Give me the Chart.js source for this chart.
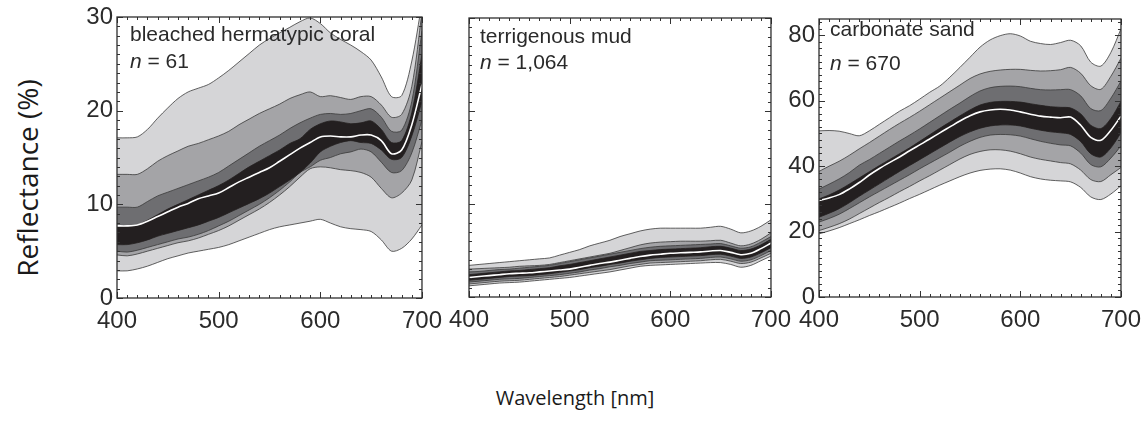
<!DOCTYPE html>
<html>
<head>
<meta charset="utf-8">
<script src="https://cdn.jsdelivr.net/npm/chart.js@4.4.1/dist/chart.umd.min.js"></script>
<style>
  body { margin: 0; background: #fff; width: 1148px; height: 427px; overflow: hidden; position: relative; }
  canvas { position: absolute; }
  .lbl { position: absolute; font-family: 'Liberation Sans', Arial, sans-serif; font-size: 21px; color: #2a2a2a; white-space: nowrap; }
  .lbl i { font-style: italic; }
  #ylab { position: absolute; left: 27px; top: 178px; transform: translate(-50%, -50%) rotate(-90deg); font-family: 'Open Sans', sans-serif; font-size: 28px; color: #1a1a1a; white-space: nowrap; }
  #xlab { position: absolute; left: 575px; top: 397px; transform: translate(-50%, -50%); font-family: 'Open Sans', sans-serif; font-size: 20px; color: #1a1a1a; white-space: nowrap; }
</style>
</head>
<body>
<canvas id="coral" width="394" height="341" style="left:57px; top:-3px"></canvas>
<canvas id="mud" width="391" height="339" style="left:409px; top:-2px"></canvas>
<canvas id="sand" width="391" height="338" style="left:759px; top:-1px"></canvas>

<div class="lbl" style="left:130px; top:22px">bleached hermatypic coral</div>
<div class="lbl" style="left:130px; top:49px"><i>n</i> = 61</div>
<div class="lbl" style="left:480px; top:24px">terrigenous mud</div>
<div class="lbl" style="left:480px; top:50px"><i>n</i> = 1,064</div>
<div class="lbl" style="left:830px; top:17px">carbonate sand</div>
<div class="lbl" style="left:830px; top:51px"><i>n</i> = 670</div>

<div id="ylab">Reflectance (%)</div>
<div id="xlab">Wavelength [nm]</div>

<script>
// wavelength grid, nm
const wavelengths = [400, 410, 420, 430, 440, 450, 460, 470, 480, 490, 500, 510, 520, 530, 540, 550,
                     560, 570, 580, 590, 600, 610, 620, 630, 640, 650, 660, 670, 680, 690, 700];

// bleached hermatypic coral (n = 61), reflectance %
const coralLo1 = [2.9, 2.9, 3.1, 3.4, 3.8, 4.2, 4.5, 4.8, 5.0, 5.2, 5.4, 5.7, 6.1, 6.5, 6.9, 7.3, 7.6, 7.8, 8.0, 8.2, 8.4, 8.0, 7.6, 7.4, 7.3, 7.1, 6.2, 5.0, 5.3, 6.3, 7.8];
const coralLo2 = [4.6, 4.5, 4.7, 5.0, 5.3, 5.6, 5.9, 6.1, 6.4, 6.8, 7.2, 7.7, 8.3, 8.9, 9.5, 10.2, 11.0, 11.9, 12.9, 13.8, 14.0, 13.9, 13.7, 13.6, 13.4, 12.9, 11.7, 10.7, 11.2, 12.6, 16.7];
const coralLo3 = [5.0, 4.9, 5.1, 5.4, 5.7, 6.0, 6.3, 6.5, 6.8, 7.2, 7.7, 8.2, 8.8, 9.4, 10.0, 10.7, 11.5, 12.4, 13.4, 14.0, 14.7, 15.0, 15.4, 15.6, 15.9, 15.6, 14.5, 13.4, 13.6, 15.5, 19.0];
const coralLo4 = [5.7, 5.7, 5.9, 6.2, 6.6, 6.9, 7.2, 7.5, 7.8, 8.2, 8.6, 9.1, 9.6, 10.1, 10.6, 11.2, 11.9, 12.6, 13.4, 14.4, 15.6, 16.2, 16.6, 16.8, 16.6, 16.5, 15.8, 14.8, 15.0, 17.3, 21.0];
const coralMedian = [7.7, 7.7, 7.8, 8.2, 8.7, 9.2, 9.7, 10.1, 10.6, 10.9, 11.2, 11.8, 12.4, 12.9, 13.4, 13.9, 14.6, 15.3, 16.0, 16.6, 17.2, 17.3, 17.2, 17.2, 17.4, 17.4, 16.8, 15.4, 15.8, 18.5, 22.8];
const coralHi4 = [7.6, 7.6, 7.8, 8.3, 8.9, 9.5, 10.0, 10.5, 11.0, 11.5, 12.0, 12.6, 13.3, 14.0, 14.6, 15.2, 15.8, 16.5, 17.0, 18.0, 18.6, 18.9, 18.8, 18.6, 18.7, 18.9, 18.0, 16.6, 16.8, 19.8, 26.0];
const coralHi3 = [9.7, 9.7, 9.7, 10.3, 10.9, 11.3, 11.7, 12.1, 12.5, 12.9, 13.4, 14.1, 14.8, 15.5, 16.2, 16.8, 17.4, 18.1, 18.7, 19.2, 19.6, 19.7, 19.6, 19.7, 20.0, 20.2, 19.3, 17.8, 17.9, 21.0, 28.5];
const coralHi2 = [13.2, 13.2, 13.2, 13.8, 14.6, 15.2, 15.7, 16.2, 16.5, 16.9, 17.3, 17.8, 18.5, 19.1, 19.7, 20.2, 20.7, 21.3, 21.7, 22.0, 21.5, 21.6, 21.4, 21.2, 21.5, 21.5, 20.6, 19.3, 19.6, 22.6, 30.5];
const coralHi1 = [17.1, 17.1, 17.2, 18.0, 19.2, 20.3, 21.3, 22.0, 22.4, 22.8, 23.5, 24.3, 25.2, 26.1, 27.0, 27.7, 28.3, 28.9, 29.5, 29.9, 29.3, 28.3, 27.6, 27.0, 26.3, 25.4, 23.6, 21.5, 21.6, 25.3, 31.5];

// terrigenous mud (n = 1,064)
const mudLo1 = [1.2, 1.3, 1.4, 1.5, 1.55, 1.6, 1.7, 1.8, 1.9, 2.0, 2.1, 2.25, 2.4, 2.55, 2.7, 2.9, 3.1, 3.3, 3.4, 3.45, 3.5, 3.55, 3.6, 3.65, 3.7, 3.7, 3.5, 3.2, 3.4, 3.9, 4.4];
const mudLo2 = [1.4, 1.5, 1.6, 1.7, 1.75, 1.8, 1.9, 2.0, 2.1, 2.2, 2.35, 2.5, 2.65, 2.8, 2.95, 3.15, 3.35, 3.5, 3.65, 3.7, 3.75, 3.8, 3.85, 3.9, 4.0, 4.05, 3.85, 3.6, 3.75, 4.2, 4.7];
const mudLo3 = [1.6, 1.7, 1.8, 1.9, 1.95, 2.0, 2.1, 2.2, 2.3, 2.4, 2.55, 2.7, 2.9, 3.05, 3.25, 3.4, 3.6, 3.75, 3.9, 3.95, 4.0, 4.05, 4.1, 4.15, 4.25, 4.3, 4.1, 3.85, 4.0, 4.45, 5.0];
const mudLo4 = [1.8, 1.9, 2.0, 2.1, 2.2, 2.25, 2.3, 2.4, 2.5, 2.65, 2.8, 2.95, 3.15, 3.3, 3.5, 3.65, 3.85, 4.0, 4.15, 4.25, 4.3, 4.35, 4.4, 4.45, 4.55, 4.6, 4.4, 4.15, 4.3, 4.75, 5.3];
const mudMedian = [2.1, 2.2, 2.3, 2.4, 2.5, 2.55, 2.6, 2.7, 2.8, 2.9, 3.0, 3.2, 3.4, 3.6, 3.75, 3.95, 4.15, 4.35, 4.5, 4.6, 4.7, 4.75, 4.8, 4.85, 4.95, 5.0, 4.8, 4.55, 4.7, 5.2, 5.8];
const mudHi4 = [2.4, 2.5, 2.6, 2.7, 2.8, 2.85, 2.95, 3.05, 3.15, 3.35, 3.5, 3.7, 3.9, 4.1, 4.3, 4.5, 4.7, 4.9, 5.0, 5.1, 5.15, 5.2, 5.25, 5.3, 5.4, 5.45, 5.25, 5.0, 5.15, 5.6, 6.2];
const mudHi3 = [2.7, 2.75, 2.85, 2.95, 3.0, 3.1, 3.2, 3.3, 3.4, 3.6, 3.8, 4.0, 4.2, 4.4, 4.6, 4.8, 5.0, 5.2, 5.35, 5.45, 5.5, 5.55, 5.6, 5.65, 5.7, 5.75, 5.5, 5.25, 5.4, 5.9, 6.5];
const mudHi2 = [3.0, 3.05, 3.1, 3.15, 3.2, 3.3, 3.35, 3.4, 3.5, 3.7, 3.9, 4.1, 4.3, 4.5, 4.7, 5.0, 5.3, 5.6, 5.8, 5.9, 5.95, 6.0, 6.0, 6.0, 6.05, 6.1, 5.8, 5.5, 5.7, 6.2, 6.9];
const mudHi1 = [3.4, 3.5, 3.6, 3.7, 3.8, 3.9, 4.0, 4.1, 4.2, 4.5, 4.8, 5.1, 5.5, 5.8, 6.1, 6.5, 6.8, 7.1, 7.3, 7.4, 7.4, 7.4, 7.4, 7.4, 7.5, 7.6, 7.3, 6.9, 7.1, 7.6, 8.3];

// carbonate sand (n = 670)
const sandLo1 = [19.3, 20.2, 21.2, 22.4, 23.6, 24.9, 26.1, 27.4, 28.7, 30.1, 31.4, 32.8, 34.2, 35.5, 36.8, 37.9, 38.7, 39.1, 39.2, 38.8, 37.9, 36.8, 36.1, 35.7, 35.5, 35.2, 33.5, 30.6, 29.8, 31.5, 34.0];
const sandLo2 = [20.3, 21.3, 22.4, 23.8, 25.5, 27.2, 28.9, 30.5, 32.2, 33.8, 35.5, 37.1, 38.8, 40.5, 42.2, 43.6, 44.5, 45.0, 45.0, 44.6, 43.8, 42.8, 42.1, 41.6, 41.1, 40.7, 38.8, 35.9, 35.3, 37.4, 39.6];
const sandLo3 = [22.9, 24.0, 25.3, 27.0, 28.8, 30.6, 32.3, 34.0, 35.7, 37.4, 39.2, 40.9, 42.6, 44.3, 46.1, 47.6, 48.8, 49.5, 49.7, 49.6, 49.2, 48.4, 47.6, 47.0, 46.5, 46.2, 44.0, 40.5, 39.8, 42.5, 46.2];
const sandLo4 = [24.4, 25.6, 27.0, 28.8, 30.8, 32.7, 34.6, 36.5, 38.4, 40.2, 42.0, 43.8, 45.6, 47.4, 49.1, 50.5, 51.6, 52.3, 52.6, 52.6, 52.3, 51.6, 51.0, 50.5, 50.2, 49.7, 47.5, 43.8, 42.8, 45.6, 50.2];
const sandMedian = [29.5, 30.3, 31.3, 33.0, 35.0, 37.3, 39.3, 41.1, 42.8, 44.7, 46.5, 48.3, 50.2, 52.0, 53.8, 55.4, 56.6, 57.2, 57.4, 57.2, 56.6, 55.9, 55.3, 55.0, 54.8, 55.0, 52.5, 48.8, 47.9, 51.0, 55.3];
const sandHi4 = [30.0, 31.2, 32.7, 34.5, 36.4, 38.3, 40.2, 42.0, 43.8, 45.6, 47.6, 49.6, 51.6, 53.5, 55.4, 57.2, 58.7, 59.5, 59.8, 59.8, 59.6, 59.1, 58.6, 58.2, 58.0, 57.8, 56.0, 52.5, 51.5, 54.6, 59.8];
const sandHi3 = [33.0, 34.5, 36.1, 38.0, 40.3, 42.0, 43.9, 45.8, 47.7, 49.5, 51.4, 53.4, 55.4, 57.4, 59.3, 61.3, 63.0, 64.0, 64.4, 64.5, 64.3, 63.8, 63.4, 63.3, 63.4, 63.4, 61.5, 57.6, 57.0, 60.8, 66.0];
const sandHi2 = [38.4, 40.0, 41.5, 43.3, 45.3, 47.2, 49.2, 51.2, 53.1, 54.9, 56.8, 58.8, 60.8, 62.8, 64.8, 66.8, 68.2, 69.0, 69.4, 69.6, 69.6, 69.3, 69.1, 69.2, 69.5, 70.2, 68.4, 64.6, 63.5, 67.5, 73.0];
const sandHi1 = [50.8, 50.9, 50.7, 50.0, 49.3, 50.8, 52.8, 54.8, 56.8, 58.5, 60.5, 62.6, 64.5, 67.2, 70.2, 73.3, 76.4, 78.6, 79.9, 80.5, 79.8, 78.2, 77.5, 77.2, 77.8, 78.5, 76.8, 71.8, 70.6, 74.8, 82.0];

const bandColors = ['#d5d5d7', '#a4a4a7', '#6e6e71', '#231f20'];
const edgeColor = '#3a3a3a';

function pts(vals) {
    return wavelengths.map((w, i) => ({ x: w, y: vals[i] }));
}

// index 0 is drawn on top; fills are drawn from the last dataset back to the first
function bandDatasets(lo, hi, median) {
    const sets = [{ data: pts(median), borderColor: '#ffffff', borderWidth: 1.6, fill: false }];
    for (let k = 3; k >= 0; k--) {
        const edge = k === 3 ? bandColors[3] : edgeColor;
        sets.push({ data: pts(hi[k]), borderColor: edge, borderWidth: 0.8,
                    fill: { target: sets.length + 1, above: bandColors[k], below: bandColors[k] } });
        sets.push({ data: pts(lo[k]), borderColor: edge, borderWidth: 0.8, fill: false });
    }
    return sets;
}

const frameTicks = {
    id: 'frameTicks',
    afterDatasetsDraw(chart, args, opts) {
        const { ctx, chartArea: a, scales: { x, y } } = chart;
        ctx.save();
        ctx.strokeStyle = '#333';
        ctx.lineWidth = 1;
        ctx.beginPath();
        for (let v = x.min; v <= x.max + 0.001; v += 10) {
            const px = Math.round(x.getPixelForValue(v)) + 0.5;
            const len = v % 100 === 0 ? 6 : 3;
            ctx.moveTo(px, a.bottom); ctx.lineTo(px, a.bottom - len);
            ctx.moveTo(px, a.top); ctx.lineTo(px, a.top + len);
        }
        for (let v = y.min; v <= y.max + 0.001; v += opts.yMinor) {
            const py = Math.round(y.getPixelForValue(v)) + 0.5;
            const len = Math.abs(v % opts.yMajor) < 0.001 ? 6 : 3;
            ctx.moveTo(a.left, py); ctx.lineTo(a.left + len, py);
            ctx.moveTo(a.right, py); ctx.lineTo(a.right - len, py);
        }
        ctx.stroke();
        ctx.lineWidth = 1.3;
        ctx.strokeStyle = '#2e2e2e';
        ctx.strokeRect(a.left, a.top, a.right - a.left, a.bottom - a.top);
        ctx.restore();
    }
};

const tickFont = { family: "'Liberation Sans', Arial, sans-serif", size: 24 };

function makePanel(id, lo, hi, median, yMax, yMajor, yMinor, showY) {
    new Chart(document.getElementById(id), {
        type: 'line',
        data: { datasets: bandDatasets(lo, hi, median) },
        options: {
            responsive: false,
            animation: false,
            layout: { padding: { top: 20, right: 25, left: 0, bottom: 0 } },
            elements: { point: { radius: 0 }, line: { tension: 0.3 } },
            plugins: {
                legend: { display: false },
                tooltip: { enabled: false },
                filler: { drawTime: 'beforeDatasetsDraw' },
                frameTicks: { yMajor, yMinor }
            },
            scales: {
                x: {
                    type: 'linear', min: 400, max: 700,
                    grid: { display: false, drawTicks: false },
                    border: { display: false },
                    ticks: { stepSize: 100, color: '#2b2b2b', font: tickFont, padding: 9, maxRotation: 0 },
                    afterFit: s => { s.height = 40; }
                },
                y: {
                    type: 'linear', min: 0, max: yMax,
                    grid: { display: false, drawTicks: false },
                    border: { display: false },
                    ticks: { stepSize: yMajor, includeBounds: false, display: showY, color: '#2b2b2b', font: tickFont, padding: 4 },
                    afterBuildTicks: s => { s.ticks = s.ticks.filter(t => t.value % yMajor === 0); },
                    afterFit: s => { s.width = 60; }
                }
            }
        },
        plugins: [frameTicks]
    });
}

makePanel('coral', [coralLo1, coralLo2, coralLo3, coralLo4], [coralHi1, coralHi2, coralHi3, coralHi4], coralMedian, 30, 10, 1, true);
makePanel('mud', [mudLo1, mudLo2, mudLo3, mudLo4], [mudHi1, mudHi2, mudHi3, mudHi4], mudMedian, 30, 10, 1, false);
makePanel('sand', [sandLo1, sandLo2, sandLo3, sandLo4], [sandHi1, sandHi2, sandHi3, sandHi4], sandMedian, 85, 20, 2, true);
</script>
</body>
</html>
